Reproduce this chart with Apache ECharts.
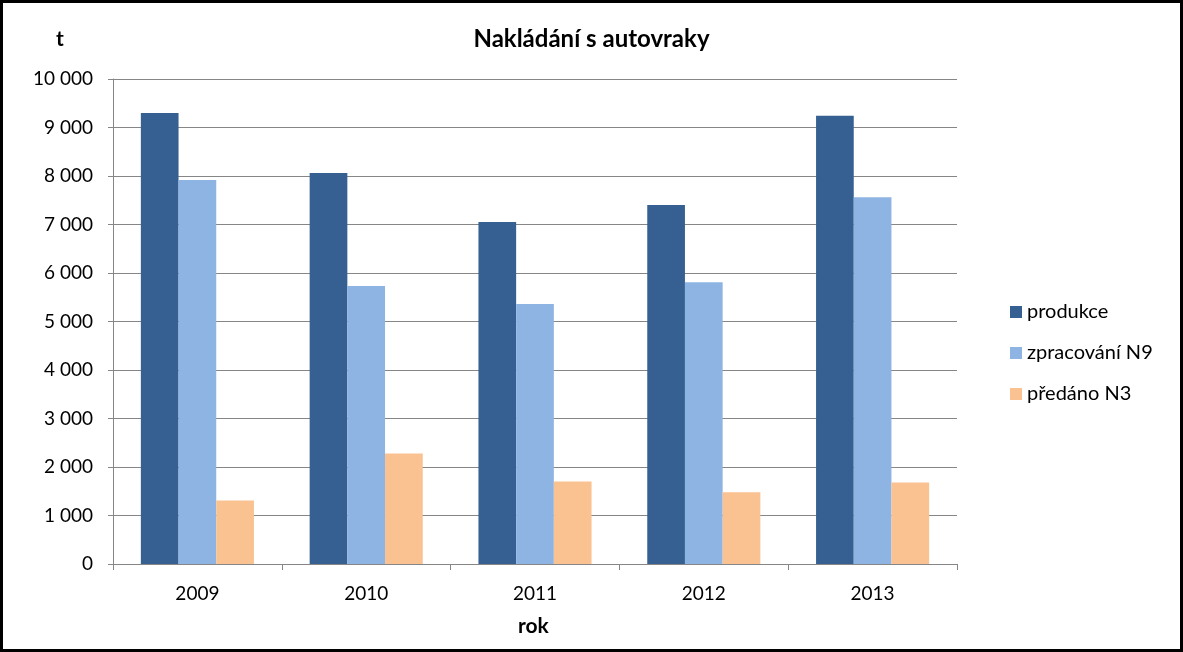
<!DOCTYPE html>
<html>
<head>
    <meta charset="utf-8">
    <title>Nakládání s autovraky</title>
    <script src="https://cdn.jsdelivr.net/npm/echarts@6/dist/echarts.min.js"></script>
    <style>
        body { margin: 0; background: #fff; }
    </style>
</head>
<body>
    <div id="main" style="width:1183px; height:652px;"></div>
    <script type="text/javascript">
    // data (t)
    var years = ['2009', '2010', '2011', '2012', '2013'];
    var produkce = [9300, 8060, 7050, 7400, 9240];
    var zpracovani = [7915, 5730, 5360, 5810, 7560];
    var predano = [1310, 2280, 1700, 1480, 1680];

    var myChart = echarts.init(document.getElementById('main'));
    var font = 'Lato, "Open Sans", sans-serif';

    function fmt(v) {
        // thousand separator as a space
        return String(v).replace(/\B(?=(\d{3})+(?!\d))/g, ' ');
    }

    var option = {
        backgroundColor: '#fff',
        animation: false,
        textStyle: { fontFamily: font },
        title: {
            text: 'Nakládání s autovraky',
            left: 'center',
            top: 22,
            textStyle: { fontSize: 24, fontWeight: 'bold', color: '#000', fontFamily: font }
        },
        graphic: [
            { type: 'rect', shape: { x: 1.5, y: 1.5, width: 1180, height: 649 },
              style: { fill: 'none', stroke: '#000', lineWidth: 3 } },
            { type: 'text', left: 56, top: 29,
              style: { text: 't', font: 'bold 21px ' + font, fill: '#000' } },
            { type: 'text', left: 518, top: 616,
              style: { text: 'rok', font: 'bold 21px ' + font, fill: '#000' } }
        ],
        color: ['#366092', '#8EB4E3', '#FAC191'],
        legend: {
            orient: 'vertical',
            left: 1005,
            top: 296,
            itemWidth: 12,
            itemHeight: 12,
            itemGap: 19,
            icon: 'rect',
            textStyle: { fontSize: 20, color: '#000', lineHeight: 22, fontFamily: font },
            data: ['produkce', 'zpracování N9', 'předáno N3']
        },
        grid: { left: 113, right: 226, top: 79, bottom: 88 },
        xAxis: {
            type: 'category',
            data: years,
            axisLine: { lineStyle: { color: '#868686', width: 1 } },
            axisTick: { show: true, length: 6, lineStyle: { color: '#868686' } },
            axisLabel: { fontSize: 19, color: '#000', margin: 20, fontFamily: font }
        },
        yAxis: {
            type: 'value',
            min: 0,
            max: 10000,
            interval: 1000,
            axisLine: { show: true, lineStyle: { color: '#868686', width: 1 } },
            axisTick: { show: true, length: 5, lineStyle: { color: '#868686' } },
            splitLine: { lineStyle: { color: '#868686', width: 1 } },
            axisLabel: { fontSize: 19, color: '#000', margin: 20, fontFamily: font, formatter: fmt }
        },
        series: [
            { name: 'produkce', type: 'bar', data: produkce, barGap: '0%', barCategoryGap: '33%' },
            { name: 'zpracování N9', type: 'bar', data: zpracovani, barGap: '0%', barCategoryGap: '33%' },
            { name: 'předáno N3', type: 'bar', data: predano, barGap: '0%', barCategoryGap: '33%' }
        ]
    };

    myChart.setOption(option);
    </script>
</body>
</html>
